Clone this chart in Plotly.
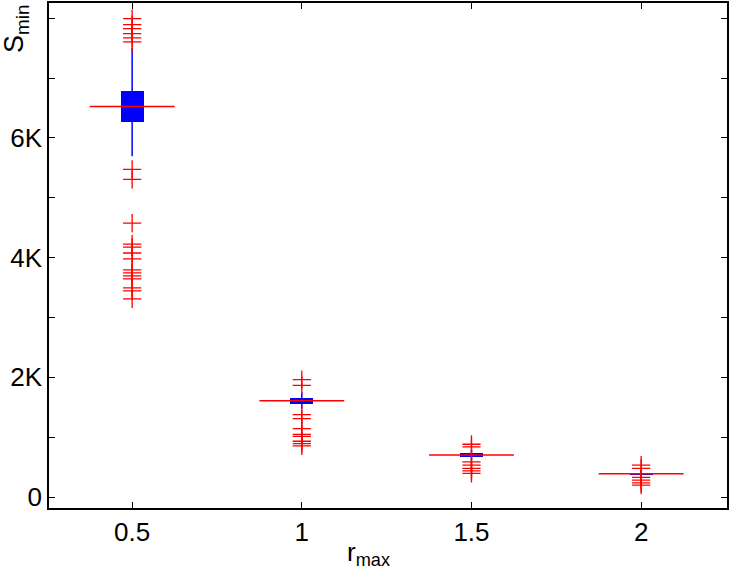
import plotly.graph_objects as go

# ---- data ----
r_max = [0.5, 1.0, 1.5, 2.0]
q1 = [6273, 1559, 671, 371]
q3 = [6789, 1659, 744, 399]
median = [6522, 1609, 704, 388]
whisk_lo = [5691, 1481, 620, 350]
whisk_hi = [7504, 1752, 790, 430]
outliers = [
    [7992, 7892, 7825, 7742, 7671, 7604, 5474, 5308, 4576, 4226, 4176, 4077,
     3977, 3794, 3744, 3694, 3644, 3494, 3444, 3311],
    [1963, 1864, 1376, 1309, 1143, 1048, 1015, 932, 894, 854],
    [882, 837, 587, 532, 478, 438, 394],
    [532, 478, 328, 283, 238, 200],
]
ytick_vals = [0, 2000, 4000, 6000]
ytick_text = ["0", "2K", "4K", "6K"]
xtick_vals = [0.5, 1, 1.5, 2]
xtick_text = ["0.5", "1", "1.5", "2"]

BOX_HALF = 0.034
MED_HALF = 0.125
FONT = "Liberation Sans, Arial, Helvetica, sans-serif"

fig = go.Figure()

# whiskers
wx, wy = [], []
for x, lo, hi in zip(r_max, whisk_lo, whisk_hi):
    wx += [x, x, None]
    wy += [lo, hi, None]
fig.add_trace(go.Scatter(x=wx, y=wy, mode="lines",
                         line=dict(color="#0000ff", width=1.5),
                         hoverinfo="skip", showlegend=False))

# boxes
fig.add_trace(go.Bar(x=r_max, base=q1, y=[b - a for a, b in zip(q1, q3)],
                     width=2 * BOX_HALF, marker=dict(color="#0000ff", line=dict(width=0)),
                     showlegend=False))

# medians
mx, my = [], []
for x, m in zip(r_max, median):
    mx += [x - MED_HALF, x + MED_HALF, None]
    my += [m, m, None]
fig.add_trace(go.Scatter(x=mx, y=my, mode="lines",
                         line=dict(color="#ff0000", width=1.5),
                         hoverinfo="skip", showlegend=False))

# outliers
ox, oy = [], []
for x, vals in zip(r_max, outliers):
    ox += [x] * len(vals)
    oy += vals
fig.add_trace(go.Scatter(x=ox, y=oy, mode="markers",
                         marker=dict(symbol="cross-thin-open", size=13, color="#ff0000",
                                     line=dict(color="#ff0000", width=1.3)),
                         showlegend=False))

axis_common = dict(showline=True, linecolor="black", linewidth=1.5, mirror="ticks",
                   ticks="inside", ticklen=6, tickcolor="black", tickwidth=1,
                   showgrid=False, zeroline=False,
                   tickfont=dict(family=FONT, size=26, color="black"))

fig.update_layout(
    width=738, height=571,
    margin=dict(l=49, r=11, t=1, b=63),
    plot_bgcolor="white", paper_bgcolor="white",
    bargap=0,
    xaxis=dict(range=[0.255, 2.253], tickvals=xtick_vals, ticktext=xtick_text,
               **axis_common),
    yaxis=dict(range=[-183, 8253], tickvals=ytick_vals, ticktext=ytick_text,
               minor=dict(dtick=1000, tick0=0, ticks="inside", ticklen=6,
                          tickcolor="black", tickwidth=1, showgrid=False),
               **axis_common),
    annotations=[
        dict(text="r<sub>max</sub>", xref="paper", yref="paper",
             x=(368 - 49) / 678, y=-0.09, xanchor="center", yanchor="middle",
             showarrow=False, font=dict(family=FONT, size=26, color="black")),
        dict(text="S<sub>min</sub>", xref="paper", yref="paper",
             x=(16 - 49) / 678, y=1.0, xanchor="center", yanchor="top",
             textangle=-90, showarrow=False,
             font=dict(family=FONT, size=27, color="black")),
    ],
)

fig.write_html("out.html")
